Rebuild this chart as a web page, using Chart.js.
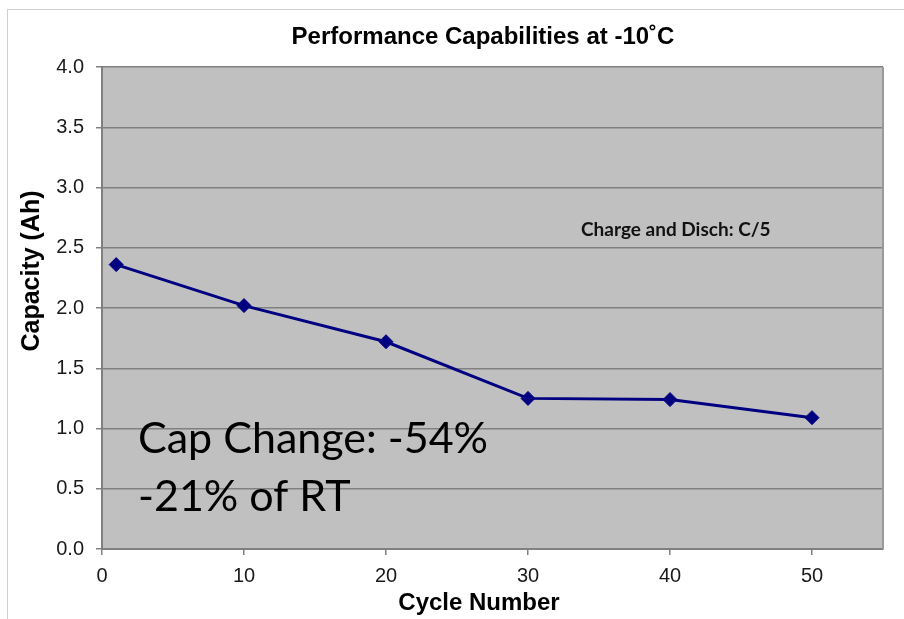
<!DOCTYPE html>
<html>
<head>
<meta charset="utf-8">
<script src="https://cdn.jsdelivr.net/npm/chart.js@4.4.1/dist/chart.umd.min.js"></script>
<style>
  html, body { margin: 0; padding: 0; background: #ffffff; }
  #wrap { position: relative; width: 904px; height: 619px; }
</style>
</head>
<body>
<div id="wrap"><canvas id="c" width="904" height="619"></canvas></div>
<script>
// ---- data ----
const cycles = [1, 10, 20, 30, 40, 50];
const capacity = [2.36, 2.02, 1.72, 1.25, 1.24, 1.09];
const xTicks = [0, 10, 20, 30, 40, 50];
const yTicks = [0.0, 0.5, 1.0, 1.5, 2.0, 2.5, 3.0, 3.5, 4.0];
const titleText = "Performance Capabilities at -10\u02DAC";
const xTitle = "Cycle Number";
const yTitle = "Capacity (Ah)";
const noteText = "Charge and Disch: C/5";
const capLines = ["Cap Change: -54%", "-21% of RT"];

const points = cycles.map((c, i) => ({ x: c, y: capacity[i] }));

const decor = {
  id: 'decor',
  beforeDraw(chart) {
    const { ctx, chartArea: a } = chart;
    ctx.save();
    ctx.fillStyle = '#c0c0c0';
    ctx.fillRect(a.left, a.top, a.right - a.left, a.bottom - a.top);
    // outer frame
    ctx.strokeStyle = '#cfcfcf';
    ctx.lineWidth = 1;
    ctx.strokeRect(7.5, 9.5, 1000, 1000);
    ctx.restore();
  },
  afterDatasetsDraw(chart) {
    const { ctx, chartArea: a } = chart;
    ctx.save();
    ctx.strokeStyle = '#9a9a9a';
    ctx.lineWidth = 2;
    ctx.beginPath();
    ctx.moveTo(a.right, a.top);
    ctx.lineTo(a.right, a.bottom);
    ctx.stroke();
    ctx.restore();
  },
  afterDraw(chart) {
    const { ctx } = chart;
    ctx.save();
    ctx.fillStyle = '#000';
    ctx.textAlign = 'center';
    ctx.textBaseline = 'alphabetic';
    // title
    ctx.font = 'bold 24px "Liberation Sans", Arial, sans-serif';
    ctx.fillText(titleText, 483, 44);
    // x title
    ctx.font = 'bold 24px "Liberation Sans", Arial, sans-serif';
    ctx.fillText(xTitle, 479, 610);
    // y title
    ctx.save();
    ctx.translate(39, 271);
    ctx.rotate(-Math.PI / 2);
    ctx.font = 'bold 25px "Liberation Sans", Arial, sans-serif';
    ctx.fillText(yTitle, 0, 0);
    ctx.restore();
    // note
    ctx.textAlign = 'left';
    ctx.font = 'bold 19px Lato, "Open Sans", sans-serif';
    ctx.fillStyle = '#111';
    ctx.fillText(noteText, 581, 236);
    // cap change text
    ctx.fillStyle = '#000';
    ctx.font = '43px Lato, "Open Sans", sans-serif';
    ctx.fillText(capLines[0], 138, 453);
    ctx.fillText(capLines[1], 138, 511);
    ctx.restore();
  }
};

new Chart(document.getElementById('c'), {
  type: 'scatter',
  data: {
    datasets: [{
      data: points,
      showLine: true,
      borderColor: '#000080',
      backgroundColor: '#000080',
      borderWidth: 3,
      pointStyle: 'rectRot',
      pointRadius: 7,
      pointHoverRadius: 7,
      pointBorderWidth: 1,
      tension: 0
    }]
  },
  options: {
    responsive: false,
    animation: false,
    devicePixelRatio: 1,
    layout: { padding: { left: 0, top: 67, right: 21, bottom: 0 } },
    plugins: { legend: { display: false }, tooltip: { enabled: false }, title: { display: false } },
    scales: {
      x: {
        type: 'linear',
        min: 0, max: 55,
        afterFit(s) { s.height = 70; },
        afterBuildTicks(s) { s.ticks = xTicks.map(v => ({ value: v })); },
        grid: { display: true, drawOnChartArea: false, drawTicks: true, tickLength: 6, tickColor: '#808080', lineWidth: 1.5 },
        border: { display: true, color: '#808080', width: 2 },
        ticks: { color: '#1a1a1a', padding: 9, font: { family: '"Liberation Sans", Arial, sans-serif', size: 20 }, maxRotation: 0 }
      },
      y: {
        type: 'linear',
        min: 0, max: 4,
        afterFit(s) { s.width = 102; },
        afterBuildTicks(s) { s.ticks = yTicks.map(v => ({ value: v })); },
        grid: { display: true, drawOnChartArea: true, color: '#808080', lineWidth: 1.5, drawTicks: true, tickLength: 6, tickColor: '#808080' },
        border: { display: true, color: '#808080', width: 2 },
        ticks: { color: '#1a1a1a', padding: 12, font: { family: '"Liberation Sans", Arial, sans-serif', size: 20 }, callback: v => v.toFixed(1) }
      }
    }
  },
  plugins: [decor]
});
</script>
</body>
</html>
